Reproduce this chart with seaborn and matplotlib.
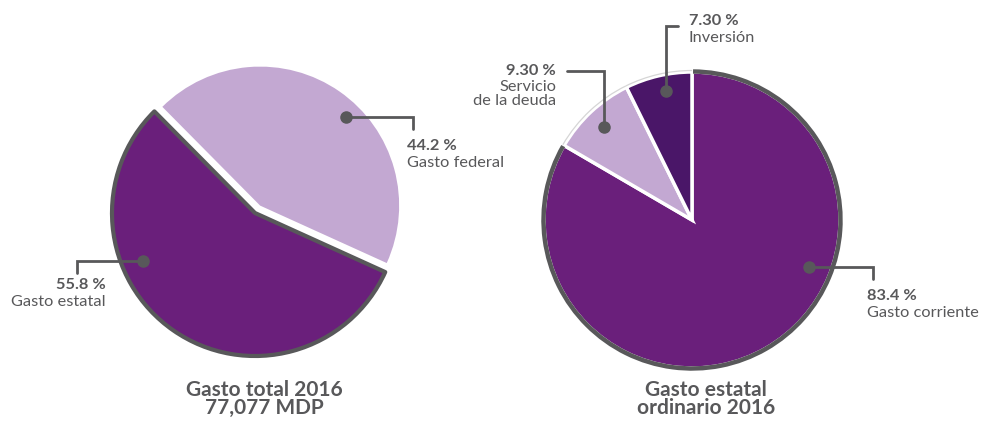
import matplotlib
matplotlib.use("Agg")
import matplotlib.pyplot as plt
from matplotlib.patches import Arc
import seaborn as sns

# ---- data ----
left_labels = ["Gasto federal", "Gasto estatal"]
left_values = [44.2, 55.8]
left_pct = ["44.2 %", "55.8 %"]
left_title = ["Gasto total 2016", "77,077 MDP"]

right_labels = ["Gasto corriente", "Servicio\nde la deuda", "Inversión"]
right_values = [83.4, 9.30, 7.30]
right_pct = ["83.4 %", "9.30 %", "7.30 %"]
right_title = ["Gasto estatal", "ordinario 2016"]

# ---- style ----
sns.set_theme(style="white")
plt.rcParams["font.family"] = ["Lato", "DejaVu Sans"]

DARK = "#6a1f7b"
LIGHT = "#c3a8d2"
DARKEST = "#4a1668"
GRAY = "#58585a"
TXT = "#58585a"
FS = 11.8

W, H = 985, 425
fig = plt.figure(figsize=(W / 100, H / 100), dpi=100)
ax = fig.add_axes([0, 0, 1, 1])

def Y(y):
    return H - y

# ---- left pie ----
lw, _ = ax.pie(left_values, colors=[LIGHT, DARK], startangle=-24.4,
               counterclock=True, center=(255, Y(213)), radius=143,
               explode=[9, 0], wedgeprops=dict(linewidth=0))
lw[0].set_radius(139)
lw[1].set_edgecolor(GRAY)
lw[1].set_linewidth(3)
lw[1].set_joinstyle("round")

# ---- right pie ----
rcx, rcy, rr = 692, Y(220), 148
rw, _ = ax.pie(right_values, colors=[DARK, LIGHT, DARKEST], startangle=90,
               counterclock=False, center=(rcx, rcy), radius=rr,
               wedgeprops=dict(edgecolor="white", linewidth=2.5))
w0 = rw[0]
ax.add_patch(Arc((rcx, rcy), 2 * rr + 1, 2 * rr + 1, theta1=w0.theta1 + 0.4,
                 theta2=w0.theta2 - 0.4, color=GRAY, lw=3.2, zorder=5))
for w in rw[1:]:
    ax.add_patch(Arc((rcx, rcy), 2 * rr + 3, 2 * rr + 3, theta1=w.theta1,
                     theta2=w.theta2, color="#d6d6d6", lw=0.9, zorder=5))

# ---- leaders & labels ----
def leader(pts, dot):
    xs = [p[0] for p in pts]
    ys = [Y(p[1]) for p in pts]
    ax.plot(xs, ys, color=GRAY, lw=2, solid_joinstyle="miter", zorder=6)
    ax.plot([dot[0]], [Y(dot[1])], "o", color=GRAY, ms=8, zorder=7)

def label(x, y, pct, name, ha):
    ax.text(x, Y(y), pct, ha=ha, va="center", fontsize=FS, fontweight="bold",
            color=TXT, zorder=8)
    ax.text(x, Y(y + 17), name, ha=ha, va="center",
            fontsize=FS, color=TXT, zorder=8)

# left: estatal
leader([(143, 261), (77, 261), (77, 273)], (143, 261))
label(106, 285, left_pct[1], left_labels[1], "right")
# left: federal
leader([(346, 117), (413, 117), (413, 129)], (346, 117))
label(407, 146, left_pct[0], left_labels[0], "left")
# right: corriente
leader([(809, 267), (873, 267), (873, 279)], (809, 267))
label(867, 296, right_pct[0], right_labels[0], "left")
# right: servicio
leader([(604, 127), (604, 71), (567, 71)], (604, 127))
ax.text(556, Y(71), right_pct[1], ha="right", va="center", fontsize=FS,
        fontweight="bold", color=TXT)
ax.text(556, Y(80), right_labels[1], ha="right", va="top", fontsize=FS,
        color=TXT, linespacing=1.0)
# right: inversion
leader([(666, 91), (666, 26), (678, 26)], (666, 91))
label(689, 21, right_pct[2], right_labels[2], "left")

# ---- titles ----
ax.text(264, Y(399), "\n".join(left_title), ha="center", va="center",
        fontsize=15, fontweight="bold", color=TXT, linespacing=0.92)
ax.text(706, Y(399), "\n".join(right_title), ha="center", va="center",
        fontsize=15, fontweight="bold", color=TXT, linespacing=0.92)

ax.set_xlim(0, W)
ax.set_ylim(0, H)
ax.set_aspect("equal")
ax.axis("off")
fig.savefig("out.png", dpi=100, facecolor="white")
